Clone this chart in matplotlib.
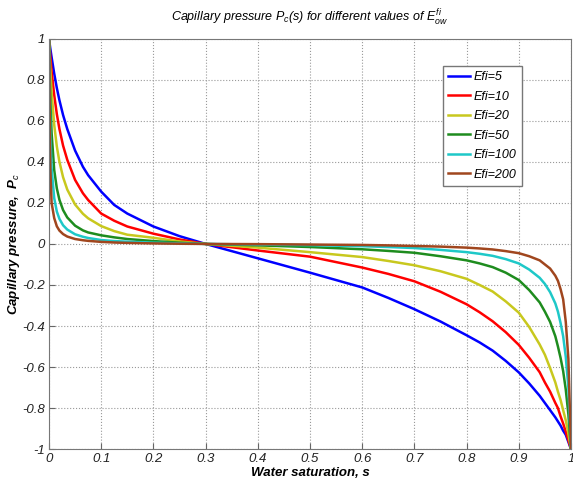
"""
Capillary pressure curves Pc(s) for several Efi values.
"""

import matplotlib
matplotlib.use('Agg')
import matplotlib.pyplot as plt

# water saturation sample points
s = [0, 0.0025, 0.005, 0.01, 0.015, 0.02, 0.027, 0.035, 0.05, 0.065, 0.075,
     0.1, 0.125, 0.15, 0.2, 0.25, 0.3, 0.4, 0.5, 0.6, 0.65, 0.7, 0.75, 0.8,
     0.825, 0.85, 0.875, 0.9, 0.92, 0.94, 0.95, 0.96, 0.97, 0.975, 0.98,
     0.985, 0.99, 0.995, 1.0]

# capillary pressure, one list per Efi
pc_5 = [1.0, 0.952, 0.91, 0.83, 0.76, 0.70, 0.628, 0.56, 0.455, 0.376, 0.335,
        0.255, 0.19, 0.148, 0.085, 0.038, 0.0, -0.07, -0.14, -0.212, -0.263,
        -0.318, -0.378, -0.445, -0.48, -0.52, -0.57, -0.626, -0.68, -0.74,
        -0.775, -0.81, -0.845, -0.865, -0.885, -0.91, -0.93, -0.965, -1.0]
pc_10 = [1.0, 0.915, 0.84, 0.725, 0.633, 0.56, 0.479, 0.41, 0.312, 0.247,
         0.214, 0.148, 0.113, 0.085, 0.05, 0.022, 0.0, -0.032, -0.062, -0.115,
         -0.146, -0.182, -0.233, -0.294, -0.333, -0.377, -0.43, -0.492, -0.555,
         -0.625, -0.675, -0.72, -0.775, -0.80, -0.84, -0.875, -0.915, -0.957,
         -1.0]
pc_20 = [1.0, 0.85, 0.74, 0.58, 0.475, 0.40, 0.325, 0.265, 0.192, 0.147,
         0.125, 0.087, 0.0625, 0.045, 0.03, 0.012, 0.0, -0.018, -0.04, -0.064,
         -0.083, -0.104, -0.133, -0.17, -0.2, -0.232, -0.28, -0.335, -0.405,
         -0.49, -0.54, -0.605, -0.675, -0.72, -0.76, -0.81, -0.86, -0.925, -1.0]
pc_50 = [1.0, 0.70, 0.54, 0.36, 0.271, 0.215, 0.165, 0.129, 0.089, 0.066,
         0.056, 0.042, 0.032, 0.024, 0.014, 0.006, 0.0, -0.007, -0.015, -0.026,
         -0.034, -0.043, -0.06, -0.08, -0.095, -0.113, -0.14, -0.176, -0.225,
         -0.285, -0.33, -0.38, -0.45, -0.5, -0.555, -0.62, -0.71, -0.83, -1.0]
pc_100 = [1.0, 0.54, 0.37, 0.223, 0.158, 0.122, 0.091, 0.07, 0.047, 0.035,
          0.029, 0.019, 0.014, 0.011, 0.006, 0.003, 0.0, -0.003, -0.006, -0.011,
          -0.015, -0.02, -0.029, -0.04, -0.048, -0.058, -0.074, -0.095, -0.125,
          -0.165, -0.195, -0.235, -0.29, -0.33, -0.385, -0.45, -0.55, -0.70,
          -1.0]
pc_200 = [1.0, 0.37, 0.2, 0.126, 0.086, 0.065, 0.048, 0.036, 0.024, 0.018,
          0.015, 0.01, 0.007, 0.005, 0.0025, 0.001, 0.0, -0.001, -0.003, -0.005,
          -0.007, -0.01, -0.013, -0.018, -0.022, -0.027, -0.035, -0.045, -0.06,
          -0.08, -0.1, -0.12, -0.155, -0.18, -0.22, -0.27, -0.38, -0.56, -1.0]

labels = ['Efi=5', 'Efi=10', 'Efi=20', 'Efi=50', 'Efi=100', 'Efi=200']
colors = ['#0000ff', '#ff0000', '#c8c81e', '#1e8c1e', '#1ec8c8', '#a0461e']

xticks = [0, 0.1, 0.2, 0.3, 0.4, 0.5, 0.6, 0.7, 0.8, 0.9, 1]
xticklabels = ['0', '0.1', '0.2', '0.3', '0.4', '0.5', '0.6', '0.7', '0.8', '0.9', '1']
yticks = [-1, -0.8, -0.6, -0.4, -0.2, 0, 0.2, 0.4, 0.6, 0.8, 1]
yticklabels = ['-1', '-0.8', '-0.6', '-0.4', '-0.2', '0', '0.2', '0.4', '0.6', '0.8', '1']

plt.rcParams['font.family'] = ['Liberation Sans', 'DejaVu Sans']
plt.rcParams['mathtext.fontset'] = 'custom'
plt.rcParams['mathtext.it'] = 'Liberation Sans:italic'
plt.rcParams['mathtext.rm'] = 'Liberation Sans:italic'

fig = plt.figure(figsize=(5.73, 4.84), dpi=100)
ax = fig.add_axes([0.0855, 0.072, 0.911, 0.848])

for pc, lab, col in zip([pc_5, pc_10, pc_20, pc_50, pc_100, pc_200], labels, colors):
    ax.plot(s, pc, color=col, lw=1.8, label=lab)

ax.set_xlim(0, 1)
ax.set_ylim(-1, 1)
ax.set_xticks(xticks)
ax.set_xticklabels(xticklabels, fontstyle='italic', fontsize=9.5, color='#222222')
ax.set_yticks(yticks)
ax.set_yticklabels(yticklabels, fontstyle='italic', fontsize=9.5, color='#222222')
ax.tick_params(direction='in', length=4, color='#666666', pad=3)
ax.grid(True, linestyle=':', color='#999999', lw=0.8)
for sp in ax.spines.values():
    sp.set_color('#777777')

ax.set_title(r'Capillary pressure $P_c$(s) for different values of $E_{ow}^{fi}$',
             fontstyle='italic', fontsize=9, pad=12)
ax.set_xlabel('Water saturation, s', fontstyle='italic', fontweight='bold',
              fontsize=9.5, labelpad=1)
ax.set_ylabel(r'Capillary pressure,  P$_c$', fontstyle='italic', fontweight='bold',
              fontsize=9.5)
ax.yaxis.set_label_coords(-0.052, 0.5)

leg = ax.legend(loc='upper left', bbox_to_anchor=(0.754, 0.933), fancybox=False,
                edgecolor='#777777', framealpha=1, prop={'style': 'italic', 'size': 9},
                handlelength=1.8, handletextpad=0.3, labelspacing=0.6,
                borderpad=0.4, borderaxespad=0)
leg.get_frame().set_linewidth(1.0)

fig.savefig('out.png', dpi=100)
